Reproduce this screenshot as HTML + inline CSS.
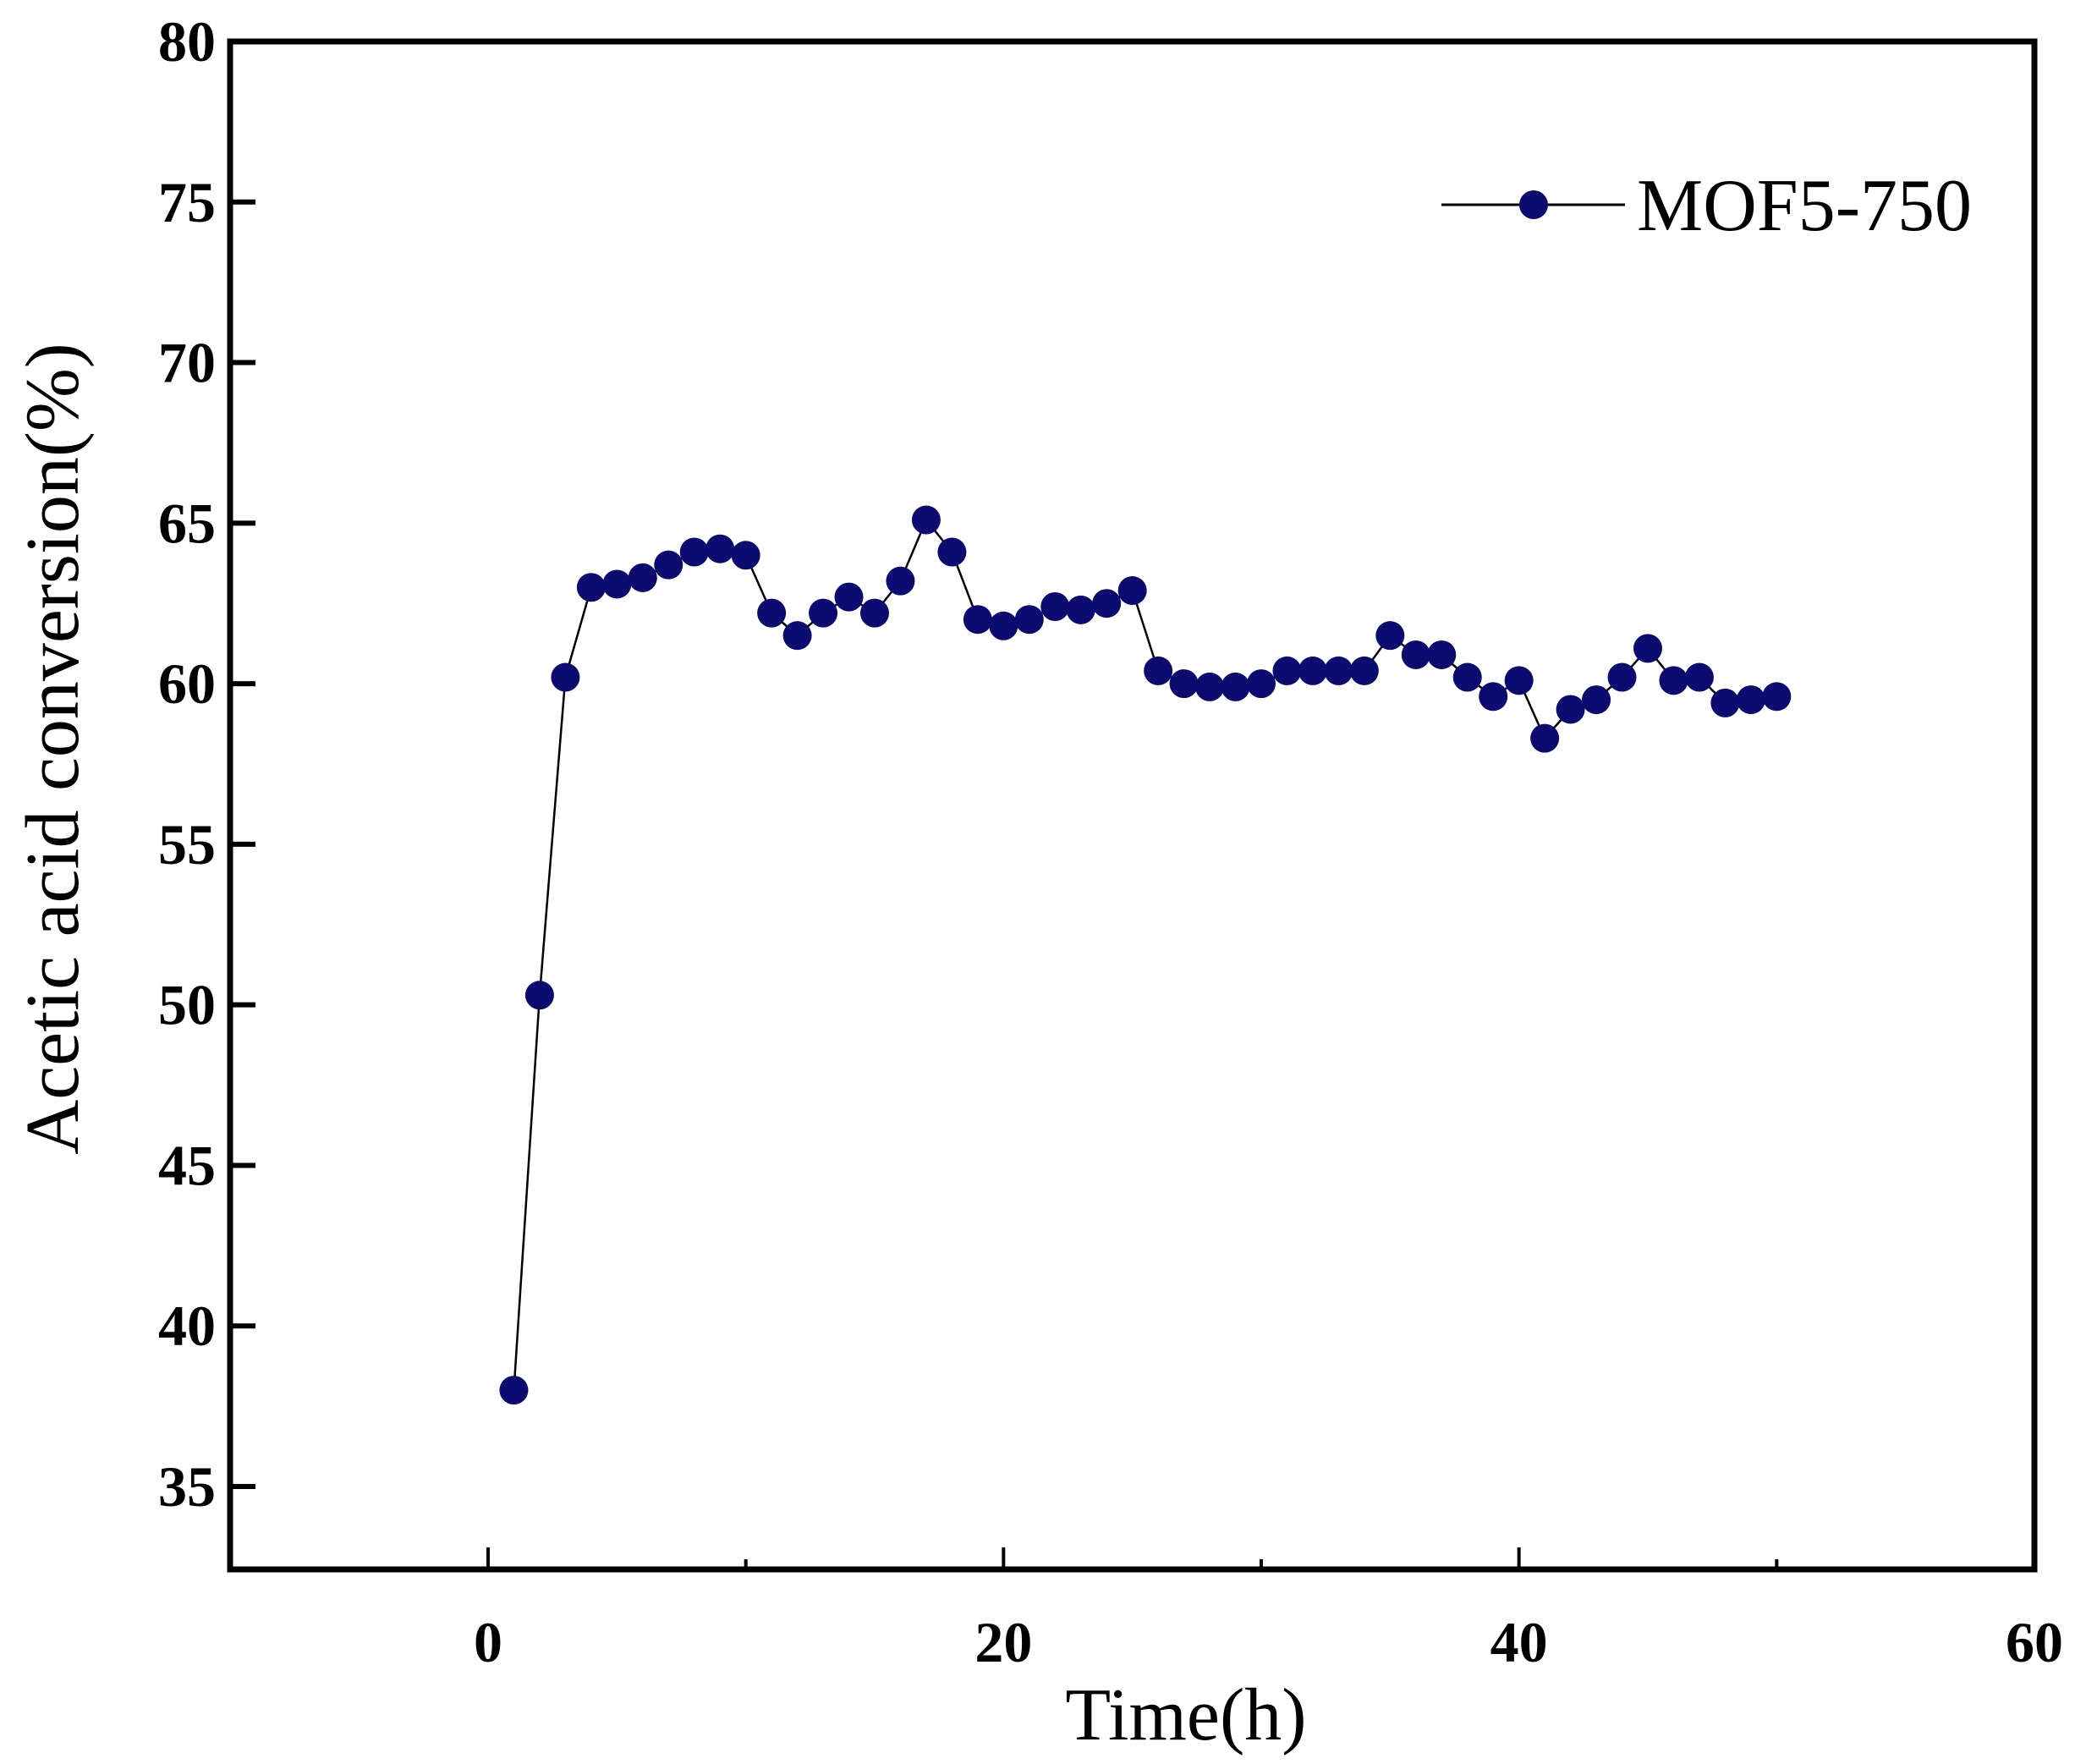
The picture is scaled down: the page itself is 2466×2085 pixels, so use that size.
<!DOCTYPE html>
<html><head><meta charset="utf-8"><style>
html,body{margin:0;padding:0;background:#fff;}
svg{display:block;}
text{font-family:"Liberation Serif",serif;}
</style></head><body>
<svg id="chart" width="2466" height="2085" viewBox="0 0 2466 2085" xmlns="http://www.w3.org/2000/svg">
<g id="axes"></g>
<g id="series"></g>
<text x="1402" y="2056" font-size="88" text-anchor="middle">Time(h)</text>
<text transform="translate(92,885) rotate(-90)" font-size="90" text-anchor="middle">Acetic acid conversion(%)</text>
<g>
<line x1="1704" y1="242" x2="1921" y2="242" stroke="#000" stroke-width="3"/>
<circle cx="1813" cy="242" r="17" fill="#0b0b70"/>
<text x="1935" y="272" font-size="88">MOF5-750</text>
</g>
</svg>
<script>
const times = [1,2,3,4,5,6,7,8,9,10,11,12,13,14,15,16,17,18,19,20,21,22,23,24,25,26,27,28,29,30,31,32,33,34,35,36,37,38,39,40,41,42,43,44,45,46,47,48,49,50];
const conversion = [38,50.3,60.2,63,63.1,63.3,63.7,64.1,64.2,64,62.2,61.5,62.2,62.7,62.2,63.2,65.1,64.1,62,61.8,62,62.4,62.3,62.5,62.9,60.4,60,59.9,59.9,60,60.4,60.4,60.4,60.4,61.5,60.9,60.9,60.2,59.6,60.1,58.3,59.2,59.5,60.2,61.1,60.1,60.2,59.4,59.5,59.6];
const xTicks = [0,20,40,60];
const xMinor = [10,30,50];
const yTicks = [35,40,45,50,55,60,65,70,75,80];

const NS = "http://www.w3.org/2000/svg";
const L=272, R=2405, T=49, B=1855;
function xs(v){return 577 + (v-0)*(2405-577)/60;}
function ys(v){return 1757 - (v-35)*(1757-49)/45;}
function mk(tag, attrs, parent){const e=document.createElementNS(NS,tag);for(const k in attrs)e.setAttribute(k,attrs[k]);parent.appendChild(e);return e;}
const axes=document.getElementById('axes'), series=document.getElementById('series');

const frame=mk('rect',{x:L,y:T,width:R-L,height:B-T,fill:'none',stroke:'#000','stroke-width':7},axes);



yTicks.forEach(v=>{
  const t=mk('line',{x1:L,x2:L+30,y1:ys(v),y2:ys(v),stroke:'#000','stroke-width':6},axes);
  
  
  const lb=mk('text',{x:255,y:ys(v)+23,'font-size':68,'font-weight':'bold','text-anchor':'end'},axes);
  lb.textContent=v;
  
  
});
xTicks.forEach(v=>{
  const t=mk('line',{x1:xs(v),x2:xs(v),y1:B,y2:B-26,stroke:'#000','stroke-width':4},axes);
  
  
  const lb=mk('text',{x:xs(v),y:1964,'font-size':68,'font-weight':'bold','text-anchor':'middle'},axes);
  lb.textContent=v;
  
  
});
xMinor.forEach(v=>{
  const t=mk('line',{x1:xs(v),x2:xs(v),y1:B,y2:B-12,stroke:'#000','stroke-width':4},axes);
  
  
});

const pts=times.map((t,i)=>xs(t)+','+ys(conversion[i])).join(' ');
const pl=mk('polyline',{points:pts,fill:'none',stroke:'#000','stroke-width':2.5},series);


times.forEach((t,i)=>{
  const c=mk('circle',{cx:xs(t),cy:ys(conversion[i]),r:17,fill:'#0b0b70'},series);
  
  
});
</script>
</body></html>
